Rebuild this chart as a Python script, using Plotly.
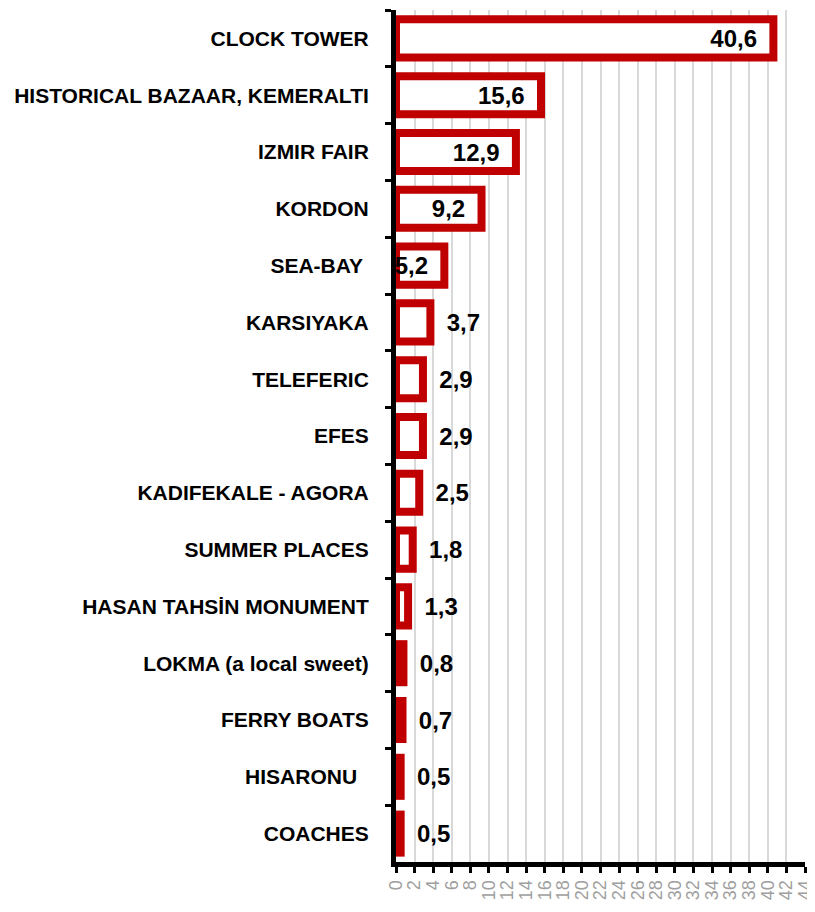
import plotly.graph_objects as go

categories = [
    "CLOCK TOWER", "HISTORICAL BAZAAR, KEMERALTI", "IZMIR FAIR", "KORDON",
    "SEA-BAY\u00a0", "KARSIYAKA", "TELEFERIC", "EFES", "KADIFEKALE - AGORA",
    "SUMMER PLACES", "HASAN TAHSİN MONUMENT", "LOKMA (a local sweet)",
    "FERRY BOATS", "HISARONU\u00a0\u00a0", "COACHES",
]
values = [40.6, 15.6, 12.9, 9.2, 5.2, 3.7, 2.9, 2.9, 2.5, 1.8, 1.3, 0.8, 0.7, 0.5, 0.5]
labels = [f"{v:.1f}".replace(".", ",") for v in values]
x_ticks = list(range(0, 45, 2))

positions = ["inside" if v > 5 else "outside" for v in values]
texts = [t + "\u00a0\u00a0" if p == "inside" else "\u00a0\u00a0" + t for t, p in zip(labels, positions)]

fig = go.Figure(go.Bar(
    x=values, y=categories, orientation="h",
    marker=dict(color="white", line=dict(color="#C00000", width=8)),
    width=0.67,
    text=texts, textposition=positions, insidetextanchor="end",
    textfont=dict(family="Liberation Sans, Arial", size=24, color="black", weight="bold"),
    insidetextfont=dict(color="black"), outsidetextfont=dict(color="black"),
    cliponaxis=False,
))

fig.update_layout(
    width=807, height=904,
    margin=dict(l=388, r=10, t=2, b=50),
    plot_bgcolor="white", paper_bgcolor="white",
    showlegend=False,
    uniformtext=dict(mode="show", minsize=24),
    font=dict(family="Liberation Sans, Arial", color="black"),
)
fig.update_xaxes(
    range=[0, 44], tickvals=x_ticks, ticktext=[str(t) for t in x_ticks],
    tickangle=-90, tickfont=dict(size=18, color="#a0a0a0"),
    ticklabeloverflow="allow",
    showgrid=True, gridcolor="#d9d9d9", gridwidth=1.5,
    showline=True, linecolor="black", linewidth=5,
    ticks="outside", ticklen=6, tickwidth=3, tickcolor="black",
    zeroline=False, fixedrange=True, automargin=False,
)
fig.update_yaxes(
    autorange="reversed", categoryorder="array", categoryarray=categories,
    tickfont=dict(size=21, color="black", family="Liberation Sans, Arial", weight="bold"),
    showline=True, linecolor="black", linewidth=5,
    ticks="outside", ticklen=6, tickwidth=3, tickcolor="black",
    tickson="boundaries", ticklabelstandoff=18,
    showgrid=False, fixedrange=True, automargin=False,
)

fig.write_html("out.html")
